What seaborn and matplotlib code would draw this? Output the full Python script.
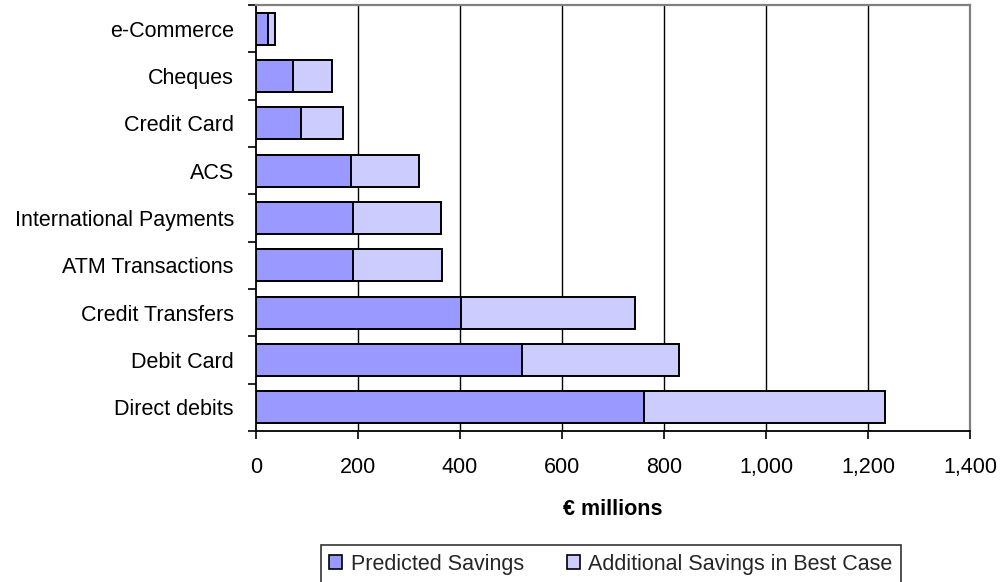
import matplotlib
matplotlib.use("Agg")
import matplotlib.pyplot as plt
from matplotlib.patches import Patch
from matplotlib.ticker import FuncFormatter, FixedLocator
import numpy as np
import pandas as pd
import seaborn as sns

# Savings per payment channel, € millions
categories = ["e-Commerce", "Cheques", "Credit Card", "ACS",
              "International Payments", "ATM Transactions",
              "Credit Transfers", "Debit Card", "Direct debits"]
predicted = [23, 73, 89, 187, 191, 191, 402, 521, 761]
additional = [15, 76, 81, 133, 171, 174, 342, 309, 473]
series_names = ["Predicted Savings", "Additional Savings in Best Case"]
x_ticks = [0, 200, 400, 600, 800, 1000, 1200, 1400]

sns.set_theme(style="white")
plt.rcParams["font.family"] = ["Liberation Sans", "DejaVu Sans"]

df = pd.DataFrame({"category": categories,
                   "predicted": predicted,
                   "additional": additional})
df["best_case"] = df["predicted"] + df["additional"]

col_pred = "#9999FF"
col_add = "#CCCCFF"
fs = 15.5

fig = plt.figure(figsize=(10.04, 5.82), dpi=100)
ax = fig.add_axes([256 / 1004, 1 - 431 / 582, 714 / 1004, 426 / 582])

ax.set_axisbelow(True)
for xv in x_ticks[1:-1]:
    ax.axvline(xv, color="black", lw=1.0, zorder=0)

# stacked: full best-case bar first, predicted part drawn on top
sns.barplot(data=df, x="best_case", y="category", orient="h", color=col_add,
            saturation=1, width=0.67, edgecolor="black", linewidth=1.4, ax=ax)
sns.barplot(data=df, x="predicted", y="category", orient="h", color=col_pred,
            saturation=1, width=0.67, edgecolor="black", linewidth=1.4, ax=ax)

ax.set_xlim(0, 1400)
ax.set_ylim(len(categories) - 0.5, -0.5)
ax.xaxis.set_major_locator(FixedLocator(x_ticks))
ax.xaxis.set_major_formatter(FuncFormatter(lambda v, p: f"{int(v):,}"))

# category labels centred, ticks on the boundaries between categories
ax.set_yticks(range(len(categories)))
ax.set_yticklabels(categories)
ax.set_yticks(np.arange(-0.5, len(categories)), minor=True)
ax.tick_params(axis="y", which="major", length=0, pad=16, labelsize=fs,
               labelcolor="black")
ax.tick_params(axis="y", which="minor", left=True, length=6, width=1.2,
               direction="out", color="black")
ax.tick_params(axis="x", which="major", bottom=True, length=6, width=1.2,
               direction="out", color="black", pad=13, labelsize=fs,
               labelcolor="black")

ax.set_ylabel("")
ax.set_xlabel("€ millions", fontsize=fs, fontweight="bold", labelpad=15,
              color="black")

for side in ["left", "bottom"]:
    ax.spines[side].set_color("black")
    ax.spines[side].set_linewidth(1.3)
for side in ["top", "right"]:
    ax.spines[side].set_visible(True)
    ax.spines[side].set_color("#808080")
    ax.spines[side].set_linewidth(1.6)

handles = [Patch(facecolor=col_pred, edgecolor="black", linewidth=1.2),
           Patch(facecolor=col_add, edgecolor="black", linewidth=1.2)]
leg = fig.legend(handles, series_names, ncol=2, loc="upper center",
                 bbox_to_anchor=(611 / 1004, 1 - 545 / 582),
                 fontsize=fs, frameon=True, fancybox=False,
                 handlelength=0.6, handleheight=0.6, handletextpad=0.4,
                 columnspacing=2.0, borderpad=0.4, borderaxespad=0)
leg.get_frame().set_edgecolor("black")
leg.get_frame().set_linewidth(1.2)

fig.savefig("out.png", dpi=100)
